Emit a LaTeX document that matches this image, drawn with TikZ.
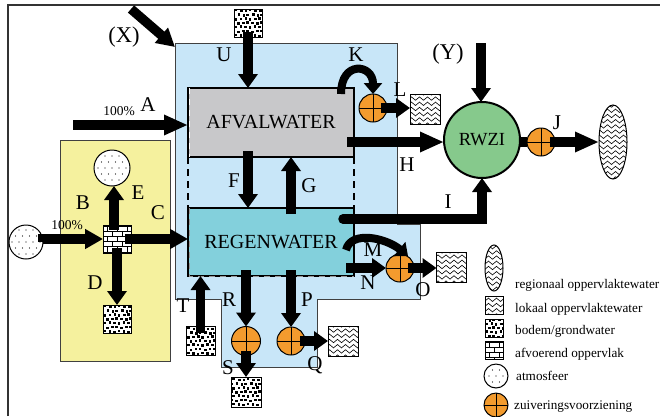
\documentclass[tikz,border=0pt]{standalone}
\usepackage{fontspec}
\setmainfont{Liberation Serif}
\usetikzlibrary{arrows.meta,shapes.geometric,decorations.pathmorphing}
\definecolor{lightblue}{RGB}{200,230,248}
\definecolor{paleyellow}{RGB}{245,241,158}
\definecolor{boxgrey}{RGB}{200,200,202}
\definecolor{boxteal}{RGB}{131,208,220}
\definecolor{plantgreen}{RGB}{134,201,140}
\definecolor{treatorange}{RGB}{243,155,46}
\newcommand{\gravelfill}{\begin{scope}[shift={(path picture bounding box.center)}]
	\foreach \i in {-5,...,5} \foreach \j in {-5,...,5} {
		\pgfmathsetmacro\ox{\i*4.7+mod(abs(\j),2)*2.3+(mod(abs(\i*\i+3*\j),3)-1)*0.5}
		\pgfmathsetmacro\oy{\j*4.1+(mod(abs(\i+2*\j),3)-1)*0.5}
		\fill[black] (\ox-1.3,\oy-1.2) rectangle ++(2.6,2.4);
	}
\end{scope}}
\newcommand{\wavefill}{\begin{scope}[shift={(path picture bounding box.center)}]
	\foreach \j in {-8,...,8}
		\draw[line width=.6pt,decorate,decoration={snake,amplitude=1.7pt,segment length=8pt}] (-24,\j*5.2) -- (24,\j*5.2);
\end{scope}}
\newcommand{\brickfill}{\begin{scope}[shift={(path picture bounding box.center)}]
	\foreach \j in {-3,...,3} {
		\draw[line width=.7pt] (-20,\j*5.2+2.6) -- (20,\j*5.2+2.6);
		\pgfmathsetmacro\ox{mod(abs(\j),2)*5}
		\foreach \i in {-3,...,3}
			\draw[line width=.7pt] (\i*10+\ox,\j*5.2-2.6) -- (\i*10+\ox,\j*5.2+2.6);
	}
\end{scope}}
\newcommand{\speckfill}{\begin{scope}[shift={(path picture bounding box.center)}]
	\foreach \i in {-3,...,3} \foreach \j in {-3,...,3} {
		\pgfmathsetmacro\ox{\i*7+mod(abs(\j),2)*3.5}
		\fill[black] (\ox,\j*6) circle (.6);
	}
\end{scope}}
\newcommand{\crossfill}{\draw[line width=.8pt] (path picture bounding box.north) -- (path picture bounding box.south) (path picture bounding box.west) -- (path picture bounding box.east);}
\tikzset{
	flow/.style={line width=9.5pt,-{Triangle[length=14pt,width=19pt]}},
	long flow/.style={line width=9.5pt,-{Triangle[length=24pt,width=19pt]}},
	mid flow/.style={line width=9.5pt,-{Triangle[length=18pt,width=19pt]}},
	bend flow/.style={line width=8pt,-{Triangle[length=11pt,width=18pt]}},
	gravel/.style={draw,fill=white,line width=1pt,minimum size=#1,inner sep=0pt,outer sep=0pt,path picture={\gravelfill}},
	wavy/.style={draw,fill=white,line width=1pt,minimum size=#1,inner sep=0pt,outer sep=0pt,path picture={\wavefill}},
	brick/.style={draw,fill=white,line width=1pt,minimum size=#1,inner sep=0pt,outer sep=0pt,path picture={\brickfill}},
	atmos/.style={circle,draw,fill=white,line width=1pt,minimum size=#1,inner sep=0pt,outer sep=0pt,path picture={\speckfill}},
	treat/.style={circle,draw,fill=treatorange,line width=1pt,minimum size=#1,inner sep=0pt,outer sep=0pt,path picture={\crossfill}},
	regional/.style={ellipse,draw,fill=white,line width=1pt,inner sep=0pt,outer sep=0pt,path picture={\wavefill}},
	mainbox/.style={draw,line width=2.5pt,minimum width=166pt,inner sep=0pt,outer sep=0pt,font=\fontsize{20}{20}\selectfont},
	lab/.style={font=\fontsize{21}{21}\selectfont,inner sep=0pt},
	pct/.style={font=\fontsize{13.5}{14}\selectfont,inner sep=0pt},
	legendtxt/.style={font=\fontsize{13.2}{14}\selectfont,inner sep=0pt,anchor=west},
}
\begin{document}
\begin{tikzpicture}[x=1pt,y=-1pt]
	\useasboundingbox (0,0) rectangle (660,416);
	\draw[line width=1.2pt,black!80] (8,416)--(8,5)--(660,5);
	% areas
	\draw[fill=lightblue,line width=.9pt,draw=black!75] (175,43)--(397,43)--(397,224)--(420,224)--(420,299)--(317,299)--(317,367)--(221,367)--(221,299)--(175,299)--cycle;
	\draw[fill=paleyellow,line width=.9pt,draw=black!75] (60,140) rectangle (170,361);
	% main boxes
	\node[mainbox,fill=boxgrey,minimum height=69pt] (afval) at (271,122.5) {AFVALWATER};
	\node[mainbox,fill=boxteal,minimum height=68pt] (regen) at (271,242) {REGENWATER};
	\draw[line width=2.5pt,dash pattern=on 7pt off 5pt] (afval.south west) -- (regen.north west);
	\draw[line width=2.5pt,dash pattern=on 7pt off 5pt] (afval.south east) -- (regen.north east);
	\draw[white,line width=1pt,dash pattern=on 6pt off 5pt] ([xshift=1pt]afval.north west) -- ([xshift=1pt]afval.south west);
	\draw[black!40,line width=1pt,dash pattern=on 6pt off 5pt] ([xshift=1pt]regen.north west) -- ([xshift=1pt]regen.south west) -- (regen.south east);
	% sources and sinks
	\node[gravel=28pt] (soilU) at (248,23) {};
	\node[atmos=36pt] (airE) at (112,168) {};
	\node[atmos=34pt] (airIn) at (26,242) {};
	\node[brick=28pt] (roof) at (117,239) {};
	\node[gravel=28pt] (soilD) at (117,319) {};
	\node[gravel=29pt] (soilT) at (200.5,341) {};
	\node[gravel=30pt] (soilS) at (246,392) {};
	\node[wavy=30pt] (localL) at (425,109) {};
	\node[wavy=30pt] (localO) at (451.5,267) {};
	\node[wavy=30pt] (localQ) at (343,341) {};
	\node[regional,minimum width=28pt,minimum height=74pt] (river) at (613,142) {};
	% treatment
	\node[treat=28pt] (treatL) at (373,108) {};
	\node[treat=28pt] (treatN) at (400,268) {};
	\node[treat=29pt] (treatR) at (246,341) {};
	\node[treat=28pt] (treatP) at (291,341) {};
	\node[treat=28pt] (treatJ) at (541,142) {};
	\node[circle,draw,fill=plantgreen,line width=2pt,minimum size=76pt,inner sep=0pt,outer sep=0pt,font=\fontsize{18.5}{19}\selectfont] (rwzi) at (482,140) {RWZI};
	% free ends
	\coordinate (inA) at (73,125);
	\coordinate (inX) at (131,9);
	\coordinate (tipX) at (175,47);
	\coordinate (inY) at (481,43);
	\coordinate (outH) at (347,142);
	\coordinate (outI) at (343,219);
	% flows
	\draw[mid flow] (inX) -- (tipX);
	\draw[long flow] (inA) -- (inA -| afval.west);
	\draw[flow] ([yshift=5pt]soilU.south) -- (soilU |- afval.north);
	\draw[flow] ([xshift=-23pt,yshift=6pt]afval.south) -- ([xshift=-23pt]regen.north);
	\draw[flow] ([xshift=20pt,yshift=-6pt]regen.north) -- ([xshift=20pt]afval.south);
	\draw[mid flow] (airIn.east) -- (airIn.east |- roof.west) -- (roof.west);
	\draw[flow] ([xshift=-3pt,yshift=-5pt]roof.north) -- ([xshift=-3pt]roof.north |- airE.south);
	\draw[mid flow] ([xshift=8pt]roof.center) -- (roof.center -| regen.west);
	\draw[flow] ([yshift=-9pt]roof.center) -- (roof.center |- soilD.north);
	\draw[flow] ([yshift=-6pt]soilT.north) -- (soilT.north |- regen.south);
	\draw[flow] ([yshift=6pt]regen.south -| treatR.north) -- (treatR.north);
	\draw[flow] ([yshift=6pt]regen.south -| treatP.north) -- (treatP.north);
	\draw[flow] ([yshift=5pt]treatR.south) -- (soilS.north);
	\draw[flow] ([xshift=-5pt]treatP.east) -- (localQ.west);
	\draw[flow] ([xshift=-6pt]treatL.east) -- (treatL.east -| localL.west);
	\draw[flow] ([xshift=-8pt]regen.east |- treatN) -- (treatN.west);
	\draw[flow] ([xshift=-6pt]treatN.east) -- (localO.west |- treatN);
	\draw[long flow] (outH) -- (outH -| rwzi.west);
	\draw[flow,line cap=round] (outI) -| (rwzi.south);
	\draw[flow] (inY) -- (inY |- rwzi.north);
	\draw[line width=9.5pt] (rwzi.east |- treatJ) -- (treatJ.west);
	\draw[long flow] ([xshift=-5pt]treatJ.east) -- (river.west);
	\draw[bend flow] ([xshift=-13pt,yshift=-6pt]afval.north east) .. controls +(0,-34) and +(0,-30) .. (treatL.north);
	\draw[bend flow] ([xshift=-8pt,yshift=-8pt]regen.east) .. controls +(5,-20) and +(-22,-18) .. ([xshift=8pt,yshift=-2pt]treatN.north);
	% labels
	\node[lab,font=\fontsize{22.5}{23}\selectfont] (X) at (124,37) {(X)};
	\node[lab,font=\fontsize{22.5}{23}\selectfont] (Y) at (448,54) {(Y)};
	\node[lab] (A) at (148,105) {A};
	\node[pct] (pctA) at (119,111) {100\%};
	\node[pct] (pctB) at (67,225) {100\%};
	\node[lab] (B) at (83,203) {B};
	\node[lab] (C) at (158,213) {C};
	\node[lab] (D) at (95,283) {D};
	\node[lab] (E) at (138,193) {E};
	\node[lab] (F) at (234,181) {F};
	\node[lab] (G) at (309,186) {G};
	\node[lab] (H) at (407,165) {H};
	\node[lab] (I) at (448,202) {I};
	\node[lab] (J) at (557,123) {J};
	\node[lab] (K) at (356,55) {K};
	\node[lab] (L) at (400,90) {L};
	\node[lab] (M) at (373,250) {M};
	\node[lab] (N) at (368,283) {N};
	\node[lab] (O) at (423,290) {O};
	\node[lab] (P) at (307,300) {P};
	\node[lab] (Q) at (315,365) {Q};
	\node[lab] (R) at (229,300) {R};
	\node[lab] (S) at (228,368) {S};
	\node[lab] (T) at (183,306) {T};
	\node[lab] (U) at (224,55) {U};
	% legend
	\node[regional,minimum width=18pt,minimum height=46pt] (keyRiver) at (494,268) {};
	\node[wavy=18pt] (keyLocal) at (494,305) {};
	\node[gravel=18pt] (keySoil) at (494,328) {};
	\node[brick=18pt] (keyRoof) at (494,350) {};
	\node[atmos=24pt] (keyAir) at (496,376) {};
	\node[treat=24pt] (keyTreat) at (496,405) {};
	\node[legendtxt] (txtRiver) at (515,285) {regionaal oppervlaktewater};
	\node[legendtxt] (txtLocal) at (515,309) {lokaal oppervlaktewater};
	\node[legendtxt] (txtSoil) at (515,331) {bodem/grondwater};
	\node[legendtxt] (txtRoof) at (515,354) {afvoerend oppervlak};
	\node[legendtxt] (txtAir) at (516,376) {atmosfeer};
	\node[legendtxt] (txtTreat) at (514,407) {zuiveringsvoorziening};
\end{tikzpicture}
\end{document}
